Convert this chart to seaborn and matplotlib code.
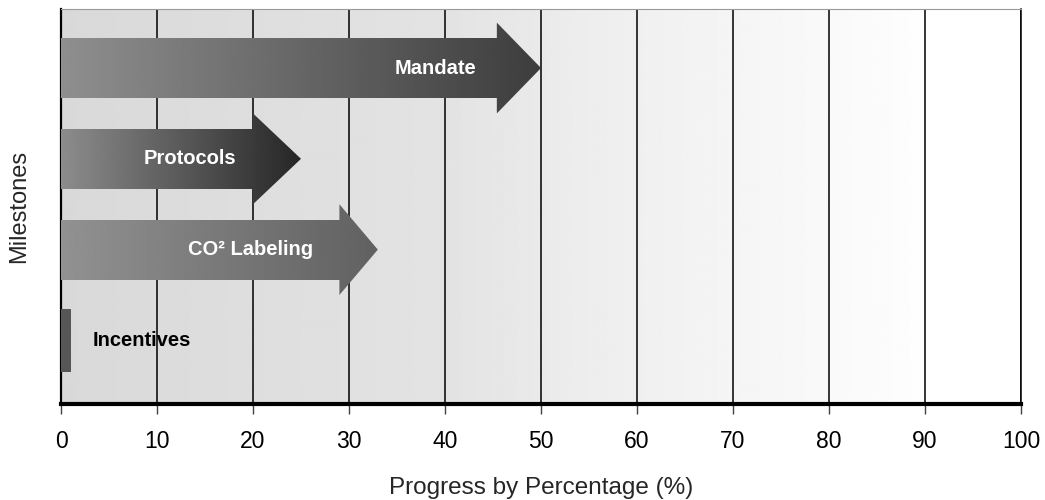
import numpy as np
import pandas as pd
import matplotlib
matplotlib.use("Agg")
import matplotlib.pyplot as plt
import seaborn as sns
from matplotlib.patches import Polygon

# Milestones and their progress (%)
milestones = ["Mandate", "Protocols", "CO² Labeling", "Incentives"]
progress = [50, 25, 33, 1]
head_len = [4.6, 5.0, 4.0, 0.0]          # arrowhead length in % units (0 = plain bar)
shade_left = [0.56, 0.55, 0.57, 0.34]    # gray level at the left end of each arrow
shade_right = [0.24, 0.15, 0.38, 0.34]   # gray level at the tip of each arrow
label_colors = ["white", "white", "white", "black"]
x_ticks = list(range(0, 101, 10))

sns.set_style("white")
plt.rcParams["font.family"] = ["Liberation Sans", "DejaVu Sans"]

fig = plt.figure(figsize=(10.45, 5), dpi=100)
ax = fig.add_axes([61 / 1045, 96 / 500, 960 / 1045, 395 / 500])

Y_TOP, Y_BOT = -0.65, 3.7
BODY_H, HEAD_H = 0.66, 1.0

df = pd.DataFrame({
    "milestone": milestones,
    "body": np.array(progress, float) - np.array(head_len, float),
})

# Arrow shafts as horizontal bars
sns.barplot(data=df, x="body", y="milestone", hue="milestone",
            palette=[str(s) for s in shade_left], legend=False,
            orient="h", width=BODY_H, linewidth=0, ax=ax, zorder=3)

bars = sorted(ax.patches, key=lambda p: p.get_y())
for i, bar in enumerate(bars):
    yc = bar.get_y() + bar.get_height() / 2
    if head_len[i] == 0:
        bar.set_height(0.70)
        bar.set_y(yc - 0.35)
    grad = np.linspace(shade_left[i], shade_right[i], 256)
    img = np.tile(grad, (2, 1))
    shapes = [bar]
    if head_len[i] > 0:
        x0 = progress[i] - head_len[i]
        head = Polygon([(x0, yc - HEAD_H / 2), (progress[i], yc),
                        (x0, yc + HEAD_H / 2)], closed=True,
                       facecolor="none", edgecolor="none", zorder=3)
        ax.add_patch(head)
        shapes.append(head)
    for shp in shapes:
        im = ax.imshow(img, cmap="gray", vmin=0, vmax=1, aspect="auto",
                       extent=(0, progress[i], yc + HEAD_H / 2, yc - HEAD_H / 2),
                       interpolation="bilinear", zorder=3.5)
        im.set_clip_path(shp)
    bar.set_facecolor("none")

    # Milestone label
    if head_len[i] > 0:
        ax.text(progress[i] - 6.7, yc, milestones[i], ha="right", va="center",
                color=label_colors[i], fontsize=14.5, fontweight="bold", zorder=5)
    else:
        ax.text(3.3, yc, milestones[i], ha="left", va="center",
                color=label_colors[i], fontsize=14.5, fontweight="bold", zorder=5)

# Shaded backdrop fading to white towards 100 %
xs = np.linspace(0, 100, 600)
bg = np.interp(xs, [0, 20, 40, 55, 70, 85, 92, 100],
               [0.85, 0.87, 0.89, 0.93, 0.96, 0.985, 1.0, 1.0])
ax.imshow(np.tile(bg, (2, 1)), cmap="gray", vmin=0, vmax=1, aspect="auto",
          extent=(0, 100, Y_BOT, Y_TOP), zorder=0)

for v in x_ticks:
    ax.axvline(v, color="black", lw=1.1, zorder=1)

ax.set_xlim(0, 100)
ax.set_ylim(Y_BOT, Y_TOP)
ax.set_xticks(x_ticks)
ax.set_yticks([])

for side in ["left", "right", "bottom", "top"]:
    ax.spines[side].set_visible(True)
ax.spines["bottom"].set_linewidth(3)
ax.spines["bottom"].set_color("black")
ax.spines["left"].set_linewidth(1.6)
ax.spines["left"].set_color("black")
ax.spines["right"].set_linewidth(1.1)
ax.spines["right"].set_color("black")
ax.spines["top"].set_linewidth(0.8)
ax.spines["top"].set_color("0.6")

ax.tick_params(axis="x", bottom=True, length=7, width=1, color="0.25",
               labelsize=16.5, pad=12, labelcolor="black")
ax.set_xlabel("Progress by Percentage (%)", fontsize=17.5, labelpad=17)
ax.set_ylabel("Milestones", fontsize=17, labelpad=22)

fig.savefig("out.png", dpi=100)
